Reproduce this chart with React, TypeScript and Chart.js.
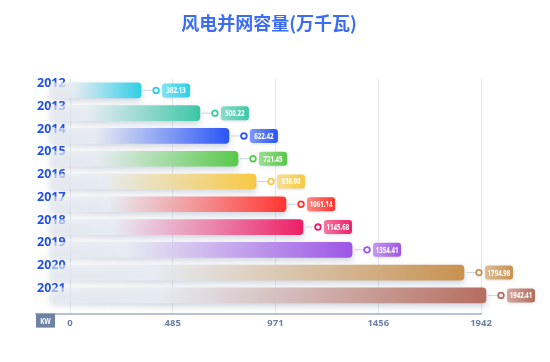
import React, { useEffect, useRef } from "react";
import { Chart, registerables } from "chart.js";

Chart.register(...registerables);

const titleText = "风电并网容量(万千瓦)";
const years = ["2012", "2013", "2014", "2015", "2016", "2017", "2018", "2019", "2020", "2021"];
// value shown in each label
const capacity = [382.13, 500.22, 622.42, 721.45, 838.9, 1061.14, 1145.68, 1354.41, 1794.98, 1942.41];
// visual bar lengths (axis units)
const barLengths = [336, 614, 751, 794, 879, 1021, 1101, 1333, 1862, 1966];
const barColors = [
  "#2ecfe6",
  "#3cc7a6",
  "#2a55f5",
  "#57c94a",
  "#f7c842",
  "#ff3530",
  "#ee1f66",
  "#9d55e6",
  "#c8914f",
  "#b56d5f",
];
const tickValues = [0, 485.6, 971.2, 1456.8, 1942.41];
const tickLabels = ["0", "485", "971", "1456", "1942"];
const axisMin = -160.7;
const axisMax = 1942.41;
const barBase = -94.5;
const unitLabel = "KW";

const FONT = '"Noto Sans", "DejaVu Sans", sans-serif';

function lighten(hex: string, f: number) {
  const n = parseInt(hex.slice(1), 16);
  const r = (n >> 16) & 255, g = (n >> 8) & 255, b = n & 255;
  const m = (c: number) => Math.round(c + (255 - c) * f);
  return `rgb(${m(r)},${m(g)},${m(b)})`;
}

function narrowText(c: CanvasRenderingContext2D, text: string, x: number, y: number, sx: number) {
  c.save();
  c.translate(x, y);
  c.scale(sx, 1);
  c.fillText(text, 0, 0);
  c.restore();
}

const shadowPlugin = {
  id: "barShadow",
  beforeDatasetDraw(chart: any) {
    const c = chart.ctx;
    c.save();
    c.shadowColor = "rgba(110,125,155,0.35)";
    c.shadowBlur = 6;
    c.shadowOffsetX = 0;
    c.shadowOffsetY = 3;
  },
  afterDatasetDraw(chart: any) {
    chart.ctx.restore();
  },
};

const labelPlugin = {
  id: "valueLabels",
  afterDatasetsDraw(chart: any) {
    const meta = chart.getDatasetMeta(0);
    const c = chart.ctx;
    meta.data.forEach((bar: any, i: number) => {
      const e = bar.x;
      const y = bar.y;
      const col = barColors[i];
      c.save();
      c.strokeStyle = "#cfd4dc";
      c.lineWidth = 1;
      c.beginPath();
      c.moveTo(e + 2, y);
      c.lineTo(e + 12, y);
      c.stroke();
      c.beginPath();
      c.arc(e + 15, y, 2.8, 0, Math.PI * 2);
      c.fillStyle = "#fff";
      c.fill();
      c.lineWidth = 1.8;
      c.strokeStyle = col;
      c.stroke();
      const bx = e + 21, bw = 28, bh = 14, by = y - 7;
      const g = c.createLinearGradient(bx, 0, bx + bw, 0);
      g.addColorStop(0, lighten(col, 0.4));
      g.addColorStop(1, col);
      c.shadowColor = "rgba(110,125,155,0.25)";
      c.shadowBlur = 3;
      c.shadowOffsetY = 1;
      c.fillStyle = g;
      c.beginPath();
      c.roundRect(bx, by, bw, bh, 3);
      c.fill();
      c.shadowColor = "transparent";
      c.fillStyle = "#fff";
      c.font = `bold 8.5px ${FONT}`;
      c.textAlign = "center";
      c.textBaseline = "middle";
      narrowText(c, capacity[i].toFixed(2), bx + bw / 2, y + 0.5, 0.72);
      c.restore();
    });
  },
};

const decorPlugin = {
  id: "decor",
  afterDraw(chart: any) {
    const c = chart.ctx;
    const area = chart.chartArea;
    c.save();
    c.fillStyle = "#3b6cf5";
    c.font = 'bold 18px "Noto Sans CJK SC", sans-serif';
    c.textAlign = "center";
    c.textBaseline = "middle";
    c.fillText(titleText, 269, 23);
    c.fillStyle = "#6e83a3";
    c.fillRect(area.left, area.bottom, 19, 14);
    c.fillStyle = "#fff";
    c.font = `bold 8.5px ${FONT}`;
    narrowText(c, unitLabel, area.left + 9.5, area.bottom + 7.5, 0.75);
    c.restore();
  },
};

export default function App() {
  const ref = useRef<HTMLCanvasElement | null>(null);
  useEffect(() => {
    if (!ref.current) return;
    const chart = new Chart(ref.current, {
      type: "bar",
      data: {
        datasets: [
          {
            data: barLengths.map((v, i) => ({ x: v, y: i })) as any,
            base: barBase,
            barThickness: 15,
            borderRadius: 4,
            borderSkipped: false,
            clip: false as any,
            backgroundColor: (ctx: any) => {
              const chart = ctx.chart;
              const xs = chart.scales?.x;
              const col = barColors[ctx.dataIndex] || "#ccc";
              if (!xs || !chart.chartArea) return col;
              const x0 = xs.getPixelForValue(barBase);
              const x1 = xs.getPixelForValue(barLengths[ctx.dataIndex]);
              const g = chart.ctx.createLinearGradient(x0, 0, x1, 0);
              g.addColorStop(0, "rgba(232,236,243,0.6)");
              g.addColorStop(0.25, "rgba(232,236,243,0.92)");
              g.addColorStop(1, col);
              return g;
            },
          } as any,
        ],
      },
      options: {
        indexAxis: "y",
        animation: false,
        responsive: true,
        maintainAspectRatio: false,
        layout: { padding: { left: 36, right: 69, top: 79, bottom: 29 } },
        plugins: { legend: { display: false }, tooltip: { enabled: false }, title: { display: false } },
        scales: {
          x: {
            type: "linear",
            min: axisMin,
            max: axisMax,
            afterBuildTicks: (axis: any) => {
              axis.ticks = tickValues.map((v) => ({ value: v }));
            },
            afterFit: (axis: any) => {
              axis.paddingLeft = 0;
              axis.paddingRight = 0;
            },
            grid: { color: "#e4e8ee", lineWidth: 1, drawTicks: false },
            border: { display: true, color: "#b7c2d2", width: 2 },
            ticks: {
              padding: 4,
              color: "#6d80a0",
              font: { family: FONT, size: 9.5, weight: "bold" },
              callback: (_v: any, i: number) => tickLabels[i],
            },
          },
          y: {
            type: "linear",
            reverse: true,
            offset: false,
            min: -0.5,
            max: 9.8,
            afterBuildTicks: (axis: any) => {
              axis.ticks = years.map((_, i) => ({ value: i }));
            },
            afterFit: (axis: any) => {
              axis.paddingTop = 0;
              axis.paddingBottom = 0;
              axis.width = 0;
            },
            grid: { display: false, drawTicks: false, offset: false },
            border: { display: false },
            ticks: {
              mirror: true,
              padding: 1,
              labelOffset: -7,
              color: "#1f4fe8",
              font: { family: FONT, size: 12.5, weight: "bold" },
              callback: (v: any) => years[v] ?? "",
            },
          },
        },
      } as any,
      plugins: [shadowPlugin, labelPlugin, decorPlugin],
    });
    return () => chart.destroy();
  }, []);
  return (
    <div style={{ position: "absolute", left: 0, top: 0, width: 550, height: 362, background: "#fff" }}>
      <canvas ref={ref} />
    </div>
  );
}
